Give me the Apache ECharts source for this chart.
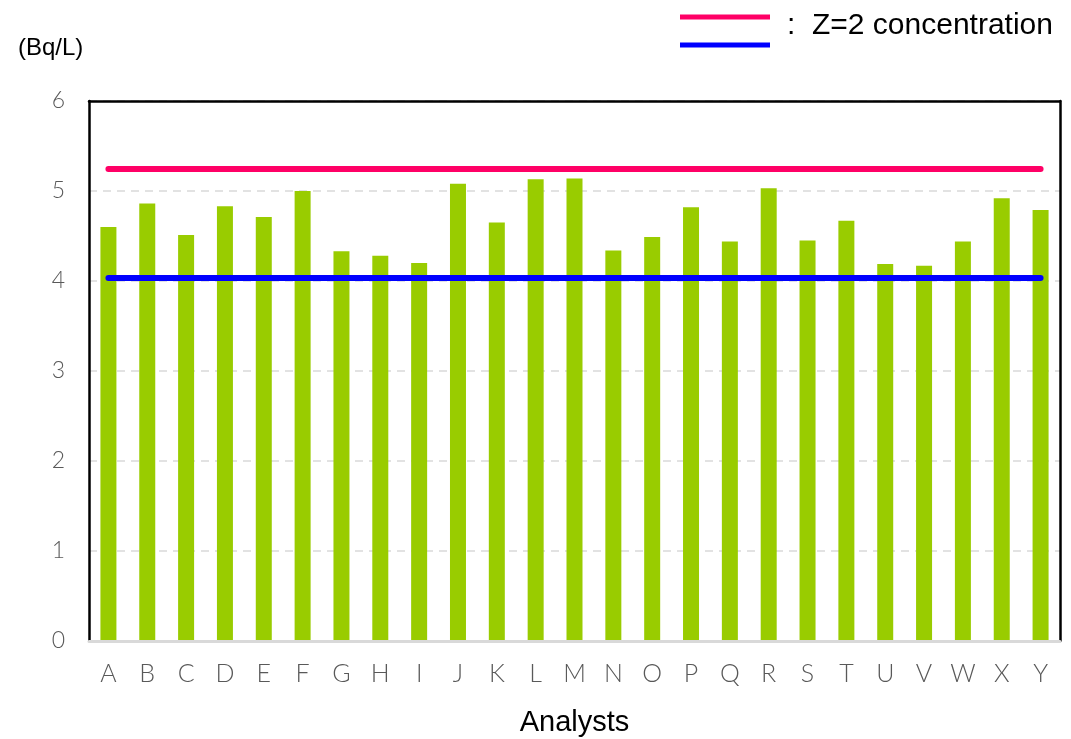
<!DOCTYPE html>
<html>
<head>
<meta charset="utf-8">
<script src="https://cdn.jsdelivr.net/npm/echarts@6/dist/echarts.min.js"></script>
<style>html,body{margin:0;padding:0;background:#fff;}#c{width:1071px;height:739px;}</style>
</head>
<body>
<div id="c"></div>
<script>
const categories = ['A','B','C','D','E','F','G','H','I','J','K','L','M','N','O','P','Q','R','S','T','U','V','W','X','Y'];
const values = [4.60,4.86,4.51,4.83,4.71,5.00,4.33,4.28,4.20,5.08,4.65,5.13,5.14,4.34,4.49,4.82,4.44,5.03,4.45,4.67,4.19,4.17,4.44,4.92,4.79];
const upperZ2 = 5.245;
const lowerZ2 = 4.04;
const yTicks = [0,1,2,3,4,5,6];

const chart = echarts.init(document.getElementById('c'));
chart.setOption({
  animation: false,
  backgroundColor: '#fff',
  grid: { left: 89, right: 11, top: 101, bottom: 98, show: false, containLabel: false, outerBoundsMode: 'none' },
  xAxis: [{
    type: 'category',
    data: categories,
    axisLine: { show: true, onZero: false, lineStyle: { color: '#d9d9d9', width: 3 } },
    axisTick: { show: false },
    axisLabel: { color: '#595959', fontSize: 25, fontFamily: 'Lato', fontWeight: 300, margin: 20 },
    name: 'Analysts',
    nameLocation: 'middle',
    nameGap: 67,
    nameTextStyle: { color: '#000', fontSize: 29, fontFamily: 'Liberation Sans' },
    z: 5
  }, {
    type: 'category',
    position: 'top',
    data: categories,
    axisLine: { show: true, onZero: false, lineStyle: { color: '#000', width: 2.5 } },
    axisTick: { show: false },
    axisLabel: { show: false },
    z: 5
  }],
  yAxis: [{
    type: 'value',
    min: yTicks[0],
    max: yTicks[yTicks.length - 1],
    interval: 1,
    axisLine: { show: true, onZero: false, lineStyle: { color: '#000', width: 2.5 } },
    axisTick: { show: false },
    axisLabel: { color: '#595959', fontSize: 23, fontFamily: 'Lato', fontWeight: 300, margin: 24 },
    splitLine: { show: true, lineStyle: { color: '#d9d9d9', type: [8, 6], width: 1.5 } }
  }, {
    type: 'value',
    position: 'right',
    min: yTicks[0],
    max: yTicks[yTicks.length - 1],
    interval: 1,
    axisLine: { show: true, onZero: false, lineStyle: { color: '#000', width: 2.5 } },
    axisTick: { show: false },
    axisLabel: { show: false },
    splitLine: { show: false }
  }],
  graphic: [
    { type: 'text', left: 18, top: 36, style: { text: '(Bq/L)', fill: '#000', font: '24px "Liberation Sans"' } },
    { type: 'line', shape: { x1: 680, y1: 17, x2: 770, y2: 17 }, style: { stroke: '#FF0066', lineWidth: 5 } },
    { type: 'line', shape: { x1: 680, y1: 45, x2: 770, y2: 45 }, style: { stroke: '#0000FF', lineWidth: 5 } },
    { type: 'text', left: 787, top: 11, style: { text: ':  Z=2 concentration', fill: '#000', font: '30px "Liberation Sans"' } }
  ],
  series: [{
    type: 'bar',
    data: values,
    barWidth: 16,
    itemStyle: { color: '#99CC00' },
    markLine: {
      silent: true,
      symbol: ['none', 'none'],
      label: { show: false },
      lineStyle: { width: 6, type: 'solid', cap: 'round' },
      data: [
        [{ coord: [categories[0], upperZ2], lineStyle: { color: '#FF0066', width: 6, type: 'solid', cap: 'round' } }, { coord: [categories[categories.length - 1], upperZ2] }],
        [{ coord: [categories[0], lowerZ2], lineStyle: { color: '#0000FF', width: 6, type: 'solid', cap: 'round' } }, { coord: [categories[categories.length - 1], lowerZ2] }]
      ]
    }
  }]
});
</script>
</body>
</html>
